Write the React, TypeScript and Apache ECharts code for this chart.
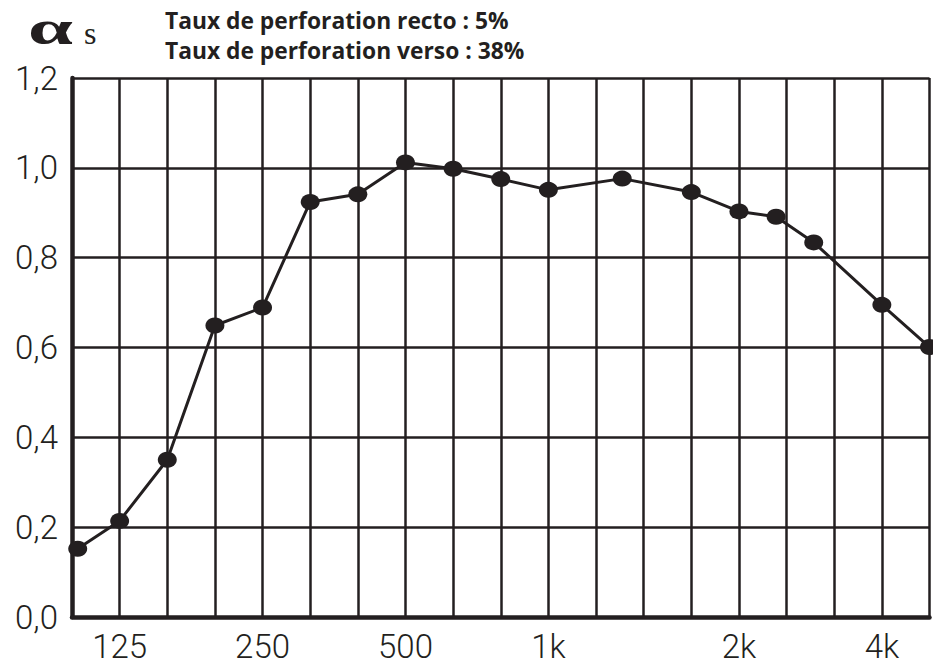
import React, { useEffect, useRef } from "react";
import * as echarts from "echarts";

// Third-octave bands (Hz)
const frequencies = ["100", "125", "160", "200", "250", "315", "400", "500", "630", "800", "1k", "1.25k", "1.6k", "2k", "2.5k", "3.15k", "4k", "5k"];
// horizontal position of each point, in grid-column units as drawn in the reference
const positions = [0.12, 1, 2, 3, 4, 5, 6, 7, 8, 9, 10, 11.55, 13, 14, 14.78, 15.57, 17, 18];
// absorption coefficient alpha s
const absorption = [0.152, 0.214, 0.35, 0.649, 0.689, 0.924, 0.941, 1.012, 0.998, 0.975, 0.951, 0.976, 0.946, 0.903, 0.891, 0.834, 0.695, 0.601];

const xTickValues = [1, 4, 7, 10, 14, 17];
const xTickLabels = ["125", "250", "500", "1k", "2k", "4k"];

const titleLines = ["Taux de perforation recto : 5%", "Taux de perforation verso : 38%"];

const INK = "#231f20";

export default function App() {
  const ref = useRef<HTMLDivElement>(null);
  useEffect(() => {
    if (!ref.current) return;
    const chart = echarts.init(ref.current, null, { renderer: "svg" });
    const data = positions.map((p, i) => ({ name: frequencies[i], value: [p, absorption[i]] }));
    chart.setOption({
      animation: false,
      backgroundColor: "#ffffff",
      title: {
        text: titleLines.join("\n"),
        left: 160,
        top: 1,
        textStyle: {
          fontFamily: "Open Sans",
          fontWeight: "bold",
          fontSize: 22.8,
          lineHeight: 29.5,
          color: INK,
        },
      },
      graphic: [
        {
          type: "text",
          x: 28,
          y: 28,
          scaleX: 1.68,
          style: {
            text: "α",
            font: 'bold 48px "Liberation Serif"',
            fill: INK,
            verticalAlign: "middle",
            align: "left",
          },
        },
        {
          type: "text",
          x: 84,
          y: 33,
          style: {
            text: "s",
            font: '32px "Liberation Serif"',
            fill: INK,
            verticalAlign: "middle",
            align: "left",
          },
        },
      ],
      grid: { left: 72, right: 3.5, top: 78, bottom: 49, containLabel: false },
      xAxis: {
        type: "value",
        min: 0,
        max: 18,
        interval: 1,
        axisLine: { show: true, onZero: false, lineStyle: { color: INK, width: 4.5 } },
        axisTick: { show: false },
        splitLine: { show: true, lineStyle: { color: INK, width: 2.5 } },
        axisLabel: {
          margin: 13,
          fontFamily: "Roboto",
          fontWeight: 300,
          fontSize: 33,
          color: INK,
          showMinLabel: true,
          showMaxLabel: true,
          formatter: (v: number) => {
            const i = xTickValues.indexOf(Math.round(v));
            return i >= 0 && Math.abs(v - xTickValues[i]) < 1e-6 ? xTickLabels[i] : "";
          },
        },
      },
      yAxis: {
        type: "value",
        min: 0,
        max: 1.2,
        interval: 0.2,
        axisLine: { show: true, lineStyle: { color: INK, width: 4.5 } },
        axisTick: { show: false },
        splitLine: { show: true, lineStyle: { color: INK, width: 2.5 } },
        axisLabel: {
          margin: 14,
          fontFamily: "Roboto",
          fontWeight: 300,
          fontSize: 33,
          color: INK,
          formatter: (v: number) => v.toFixed(1).replace(".", ","),
        },
      },
      series: [
        {
          type: "line",
          data,
          clip: false,
          symbol: "circle",
          symbolSize: [19, 16],
          itemStyle: { color: INK },
          lineStyle: { color: INK, width: 3 },
          z: 5,
        },
      ],
    });
    return () => chart.dispose();
  }, []);
  return (
    <div
      ref={ref}
      style={{ position: "fixed", left: 0, top: 0, width: 933, height: 666, background: "#fff" }}
    />
  );
}
